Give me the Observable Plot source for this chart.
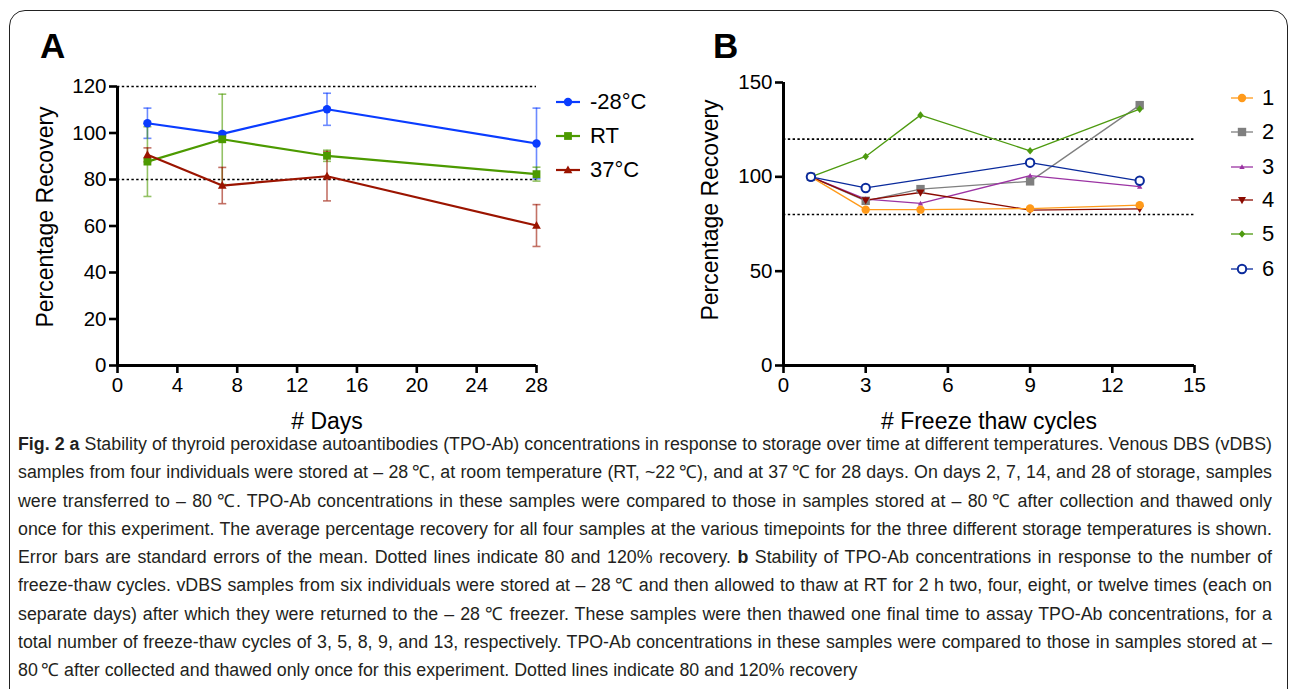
<!DOCTYPE html>
<html>
<head>
<meta charset="utf-8">
<script src="https://cdn.jsdelivr.net/npm/d3@7"></script>
<script src="https://cdn.jsdelivr.net/npm/@observablehq/plot@0.6"></script>
<style>
html,body{margin:0;padding:0;background:#fff;}
body{width:1290px;height:689px;overflow:hidden;position:relative;font-family:"Liberation Sans",Arial,sans-serif;color:#000;}
#frame{position:absolute;left:9px;top:10px;width:1279px;height:720px;border:1.5px solid #222;border-radius:16px;box-sizing:border-box;}
.panel{position:absolute;top:0;}
.plabel{position:absolute;font-weight:bold;font-size:35px;line-height:1;}
.lrow{position:absolute;display:flex;align-items:center;height:28px;white-space:nowrap;font-size:22px;}
.lrow svg{display:block;overflow:visible;}
#caption{position:absolute;left:18px;top:430px;font-family:"Liberation Sans",Arial,sans-serif;font-size:18px;line-height:28.3px;color:#231f20;}
.cline{transform-origin:0 0;height:28.3px;}
</style>
</head>
<body>
<div id="frame"></div>
<div class="plabel" style="left:40px;top:28px;">A</div>
<div class="plabel" style="left:713px;top:28px;">B</div>
<div id="panelA" class="panel" style="left:0px;"></div>
<div id="panelB" class="panel" style="left:640px;"></div>
<div id="legendA"></div>
<div id="legendB"></div>
<div id="caption"></div>
<script>
// ---------- Panel A data ----------
const daysA = [2, 7, 14, 28];
const seriesA = ["-28°C", "RT", "37°C"];
const colorsA = ["#0a3cff", "#4c9a00", "#9b1400"];
const meanMinus28 = [104.2, 99.6, 110.2, 95.5];
const semMinus28 = [6.5, 1.0, 6.9, 15.2];
const meanRT = [87.7, 97.3, 90.2, 82.3];
const semRT = [15.0, 19.4, 2.4, 3.0];
const mean37 = [90.6, 77.4, 81.4, 60.2];
const sem37 = [3.0, 7.8, 10.6, 9.0];
const ticksAx = [0, 4, 8, 12, 16, 20, 24, 28];
const ticksAy = [0, 20, 40, 60, 80, 100, 120];
const limitsPct = [80, 120];

// ---------- Panel B data ----------
const cyclesB = [1, 3, 5, 9, 13];
const seriesB = ["1", "2", "3", "4", "5", "6"];
const colorsB = ["#ff9a1a", "#7f7f7f", "#9b33a3", "#8b0a00", "#4d9a0f", "#0a2a9c"];
const sample1 = [100, 82.6, 82.6, 83.2, 85.0];
const sample2 = [100, 87.3, 93.5, 97.6, 138.0];
const sample3 = [100, 88.2, 85.9, 100.6, 94.8];
const sample4 = [100, 87.6, 91.7, 82.4, 83.0];
const sample5 = [100, 110.8, 132.7, 113.8, 135.9];
const sample6 = [100, 94.1, null, 107.5, 97.9];
const ticksBx = [0, 3, 6, 9, 12, 15];
const ticksBy = [0, 50, 100, 150];

// ---------- symbols ----------
function sym(fn){ return {draw(ctx, size){ const r = Math.sqrt(size / Math.PI); fn(ctx, r); }}; }
const capSym = sym((c,r)=>{ c.moveTo(-r,0); c.lineTo(r,0); });
const circleSym = sym((c,r)=>{ c.moveTo(r,0); c.arc(0,0,r,0,2*Math.PI); c.closePath(); });
const squareSym = sym((c,r)=>{ c.rect(-r,-r,2*r,2*r); });
const triUpSym = sym((c,r)=>{ c.moveTo(0,-r); c.lineTo(r*0.95,r*0.72); c.lineTo(-r*0.95,r*0.72); c.closePath(); });
const triDownSym = sym((c,r)=>{ c.moveTo(0,r); c.lineTo(r*0.95,-r*0.72); c.lineTo(-r*0.95,-r*0.72); c.closePath(); });
const diamondSym = sym((c,r)=>{ c.moveTo(0,-r); c.lineTo(r*0.85,0); c.lineTo(0,r); c.lineTo(-r*0.85,0); c.closePath(); });

const symA = [
  {symbol: circleSym, r: 4.2},
  {symbol: squareSym, r: 3.9},
  {symbol: triUpSym, r: 4.6}
];
const symB = [
  {symbol: circleSym, r: 4.2, open: false},
  {symbol: squareSym, r: 4.2, open: false},
  {symbol: triUpSym, r: 2.8, open: false},
  {symbol: triDownSym, r: 4.2, open: false},
  {symbol: diamondSym, r: 3.8, open: false},
  {symbol: circleSym, r: 4.2, open: true}
];

const FONT = "'Liberation Sans', Arial, Helvetica, sans-serif";

// ---------- Panel A ----------
const meansA = [meanMinus28, meanRT, mean37];
const semsA = [semMinus28, semRT, sem37];
const rowsA = seriesA.map((s, i) => daysA.map((d, j) => ({
  series: s, x: d, y: meansA[i][j], lo: meansA[i][j] - semsA[i][j], hi: meansA[i][j] + semsA[i][j]
})));

const marksA = [
  Plot.ruleY(limitsPct, {stroke: "#000", strokeWidth: 1.6, strokeDasharray: "2.4,2.4"})
];
rowsA.forEach((rows, i) => {
  const c = colorsA[i];
  marksA.push(Plot.ruleX(rows, {x: "x", y1: "lo", y2: "hi", stroke: c, strokeOpacity: 0.6, strokeWidth: 1.6}));
  marksA.push(Plot.dot(rows, {x: "x", y: "hi", symbol: capSym, r: 4, stroke: c, strokeOpacity: 0.6, strokeWidth: 1.6, fill: "none"}));
  marksA.push(Plot.dot(rows, {x: "x", y: "lo", symbol: capSym, r: 4, stroke: c, strokeOpacity: 0.6, strokeWidth: 1.6, fill: "none"}));
});
rowsA.forEach((rows, i) => {
  const c = colorsA[i];
  marksA.push(Plot.line(rows, {x: "x", y: "y", stroke: c, strokeWidth: 2.2}));
  marksA.push(Plot.dot(rows, {x: "x", y: "y", symbol: symA[i].symbol, r: symA[i].r, fill: c, stroke: "none"}));
});
marksA.push(
  Plot.ruleY([0], {stroke: "#000", strokeWidth: 3}),
  Plot.ruleX([0], {stroke: "#000", strokeWidth: 3}),
  Plot.axisX({ticks: ticksAx, tickSize: 8, tickPadding: 4, strokeWidth: 2.6, label: null, tickFormat: d => String(d)}),
  Plot.axisY({ticks: ticksAy, tickSize: 8, tickPadding: 3, strokeWidth: 2.6, label: null, tickFormat: d => String(d)}),
  Plot.text(["# Days"], {frameAnchor: "bottom", lineAnchor: "middle", dy: 56, fontSize: 23, fill: "#000"}),
  Plot.text(["Percentage Recovery"], {frameAnchor: "left", textAnchor: "middle", lineAnchor: "middle", rotate: -90, dx: -72, dy: -9, fontSize: 23, fill: "#000"})
);

const plotA = Plot.plot({
  width: 650, height: 440,
  marginLeft: 117, marginRight: 114, marginTop: 86, marginBottom: 75,
  x: {domain: [0, 28]},
  y: {domain: [0, 120]},
  style: {fontFamily: FONT, fontSize: "20.5px", color: "#000", background: "transparent", overflow: "visible"},
  marks: marksA
});
document.getElementById("panelA").appendChild(plotA);

// ---------- Panel B ----------
const samplesB = [sample1, sample2, sample3, sample4, sample5, sample6];
const rowsB = seriesB.map((s, i) => cyclesB.map((cx, j) => ({series: s, x: cx, y: samplesB[i][j]})).filter(d => d.y != null));

const marksB = [
  Plot.ruleY(limitsPct, {stroke: "#000", strokeWidth: 1.6, strokeDasharray: "2.4,2.4"})
];
const orderB = [1, 2, 3, 0, 4, 5];
orderB.forEach(i => {
  const c = colorsB[i];
  marksB.push(Plot.line(rowsB[i], {x: "x", y: "y", stroke: c, strokeWidth: 1.3}));
});
orderB.forEach(i => {
  const c = colorsB[i];
  const s = symB[i];
  marksB.push(Plot.dot(rowsB[i], {x: "x", y: "y", symbol: s.symbol, r: s.r,
    fill: s.open ? "#fff" : c, stroke: s.open ? c : "none", strokeWidth: s.open ? 2 : 0}));
});
marksB.push(
  Plot.ruleY([0], {stroke: "#000", strokeWidth: 3}),
  Plot.ruleX([0], {stroke: "#000", strokeWidth: 3}),
  Plot.axisX({ticks: ticksBx, tickSize: 8, tickPadding: 4, strokeWidth: 2.6, label: null, tickFormat: d => String(d)}),
  Plot.axisY({ticks: ticksBy, tickSize: 8, tickPadding: 3, strokeWidth: 2.6, label: null, tickFormat: d => String(d)}),
  Plot.text(["# Freeze thaw cycles"], {frameAnchor: "bottom", lineAnchor: "middle", dy: 56, fontSize: 23, fill: "#000"}),
  Plot.text(["Percentage Recovery"], {frameAnchor: "left", textAnchor: "middle", lineAnchor: "middle", rotate: -90, dx: -73, dy: -14, fontSize: 23, fill: "#000"})
);

const plotB = Plot.plot({
  width: 650, height: 440,
  marginLeft: 143, marginRight: 96, marginTop: 82, marginBottom: 75,
  x: {domain: [0, 15]},
  y: {domain: [0, 150]},
  style: {fontFamily: FONT, fontSize: "20.5px", color: "#000", background: "transparent", overflow: "visible"},
  marks: marksB
});
document.getElementById("panelB").appendChild(plotB);

// ---------- Legends ----------
function legendRow(parent, left, centerY, label, color, s, lineW, strokeW, textGap, open) {
  const row = document.createElement("div");
  row.className = "lrow";
  row.style.left = left + "px";
  row.style.top = (centerY - 14) + "px";
  const w = lineW;
  const path = d3.symbol(s.symbol, Math.PI * s.r * s.r)();
  const fill = open ? "#fff" : color;
  const stroke = open ? color : "none";
  row.innerHTML =
    `<svg width="${w}" height="16" viewBox="0 0 ${w} 16">` +
    `<line x1="0" x2="${w}" y1="8" y2="8" stroke="${color}" stroke-width="${strokeW}"/>` +
    `<path d="${path}" transform="translate(${w/2},8)" fill="${fill}" stroke="${stroke}" stroke-width="${open ? 2 : 0}"/>` +
    `</svg><span style="margin-left:${textGap}px">${label}</span>`;
  parent.appendChild(row);
}
const legARows = [102, 136, 170];
seriesA.forEach((s, i) => legendRow(document.getElementById("legendA"), 556, legARows[i], s, colorsA[i], symA[i], 24, 2.2, 10, false));
const legBRows = [98, 132, 167, 200, 234, 269];
seriesB.forEach((s, i) => legendRow(document.getElementById("legendB"), 1231, legBRows[i], s, colorsB[i], symB[i], 22, 1.3, 9, symB[i].open));

// ---------- Caption ----------
const captionLines = [
  "<b>Fig. 2 a</b> Stability of thyroid peroxidase autoantibodies (TPO-Ab) concentrations in response to storage over time at different temperatures. Venous DBS (vDBS)",
  "samples from four individuals were stored at \u2013 28\u2009\u2103, at room temperature (RT, ~22\u2009\u2103), and at 37\u2009\u2103 for 28 days. On days 2, 7, 14, and 28 of storage, samples",
  "were transferred to \u2013 80\u2009\u2103. TPO-Ab concentrations in these samples were compared to those in samples stored at \u2013 80\u2009\u2103 after collection and thawed only",
  "once for this experiment. The average percentage recovery for all four samples at the various timepoints for the three different storage temperatures is shown.",
  "Error bars are standard errors of the mean. Dotted lines indicate 80 and 120% recovery. <b>b</b> Stability of TPO-Ab concentrations in response to the number of",
  "freeze-thaw cycles. vDBS samples from six individuals were stored at \u2013 28\u2009\u2103 and then allowed to thaw at RT for 2 h two, four, eight, or twelve times (each on",
  "separate days) after which they were returned to the \u2013 28\u2009\u2103 freezer. These samples were then thawed one final time to assay TPO-Ab concentrations, for a",
  "total number of freeze-thaw cycles of 3, 5, 8, 9, and 13, respectively. TPO-Ab concentrations in these samples were compared to those in samples stored at \u2013",
  "80\u2009\u2103 after collected and thawed only once for this experiment. Dotted lines indicate 80 and 120% recovery"
];
const capEl = document.getElementById("caption");
const spans = captionLines.map(html => {
  const div = document.createElement("div");
  div.className = "cline";
  const span = document.createElement("span");
  span.style.whiteSpace = "nowrap";
  span.innerHTML = html;
  div.appendChild(span);
  capEl.appendChild(div);
  return {div, span};
});
const targetW = 1252;
const widths = spans.map(o => o.span.getBoundingClientRect().width);
const maxW = Math.max(...widths.slice(0, captionLines.length - 1));
const k = targetW / maxW;
spans.forEach((o, i) => {
  const last = i === spans.length - 1;
  o.div.style.width = (targetW / k + 2) + "px";
  o.div.style.transform = `scaleX(${k})`;
  if (!last) {
    o.span.style.whiteSpace = "normal";
    o.div.style.textAlign = "justify";
    o.div.style.textAlignLast = "justify";
  }
});
</script>
</body>
</html>
